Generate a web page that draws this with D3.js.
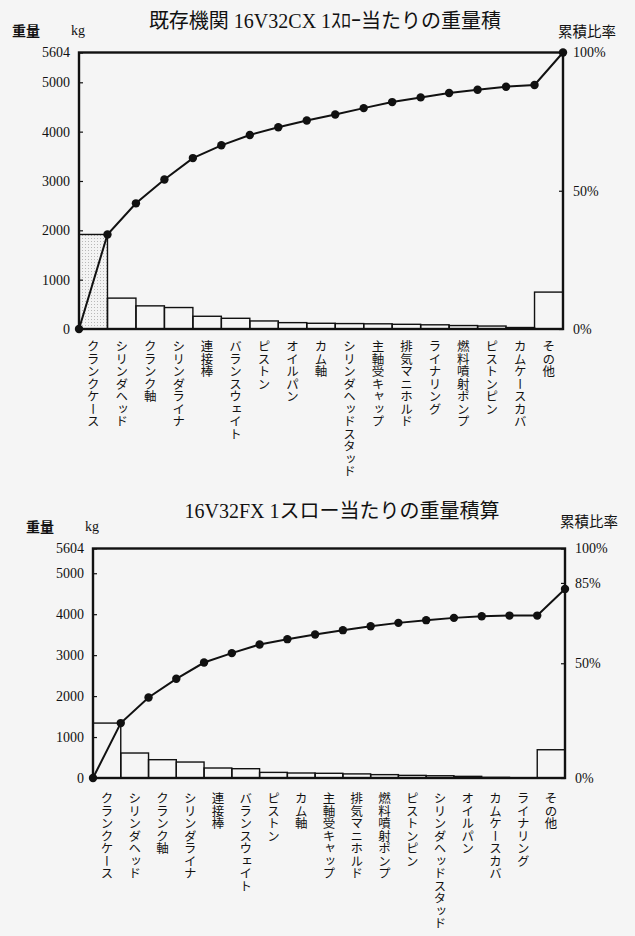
<!DOCTYPE html>
<html><head><meta charset="utf-8">
<script src="https://cdn.jsdelivr.net/npm/d3@7"></script>
<style>
body{margin:0;background:#f5f5f5}
svg{display:block}
</style>
</head><body>
<svg id="c" width="635" height="936"></svg>
<script>
// ---------- data ----------
const TOTAL_KG = 5604;

const titleA = "既存機関 16V32CX 1ｽﾛｰ当たりの重量積";
const categoriesA = ["クランクケース","シリンダヘッド","クランク軸","シリンダライナ","連接棒","バランスウェイト","ピストン","オイルパン","カム軸","シリンダヘッドスタッド","主軸受キャップ","排気マニホルド","ライナリング","燃料噴射ポンプ","ピストンピン","カムケースカバ","その他"];
const weightsA = [1916, 626, 469, 435, 258, 217, 163, 129, 116, 110, 105, 95, 85, 70, 60, 30, 748];
const cumulativeA = [1916, 2547, 3030, 3464, 3723, 3933, 4090, 4225, 4347, 4477, 4599, 4694, 4783, 4850, 4911, 4946, 5604];
const leftTicksA = [0, 1000, 2000, 3000, 4000, 5000, 5604];
const rightTicksA = [0, 50, 100];

const titleB = "16V32FX 1スロー当たりの重量積算";
const categoriesB = ["クランクケース","シリンダヘッド","クランク軸","シリンダライナ","連接棒","バランスウェイト","ピストン","カム軸","主軸受キャップ","排気マニホルド","燃料噴射ポンプ","ピストンピン","シリンダヘッドスタッド","オイルパン","カムケースカバ","ライナリング","その他"];
const weightsB = [1341, 610, 447, 390, 244, 227, 137, 122, 115, 100, 82, 64, 55, 40, 15, 6, 690];
const cumulativeB = [1341, 1966, 2422, 2820, 3049, 3259, 3390, 3503, 3610, 3707, 3788, 3854, 3910, 3951, 3966, 3966, 4617];
const leftTicksB = [0, 1000, 2000, 3000, 4000, 5000, 5604];
const rightTicksB = [0, 50, 85, 100];

// ---------- drawing ----------
const SERIF = '"Liberation Serif","DejaVu Serif",serif';
const MIXED = '"Liberation Serif","Noto Sans CJK JP",serif';
const JP = '"Noto Sans CJK JP",sans-serif';

const svg = d3.select("#c");
const defs = svg.append("defs");
const pat = defs.append("pattern").attr("id","stip").attr("width",3).attr("height",3)
  .attr("patternUnits","userSpaceOnUse");
pat.append("rect").attr("width",3).attr("height",3).attr("fill","#f3f3f3");
pat.append("rect").attr("x",1).attr("y",1).attr("width",1).attr("height",1).attr("fill","#b8b8b8");

function styleNum(sel){
  sel.style("font-family", SERIF).style("font-size","14px").style("fill","#111");
}

function drawChart(cfg){
  const g = svg.append("g");
  const x = d3.scaleBand().domain(cfg.categories).range([cfg.left, cfg.right]).padding(0);
  const y = d3.scaleLinear().domain([0, TOTAL_KG]).range([cfg.bottom, cfg.top]);
  const yr = d3.scaleLinear().domain([0, 100]).range([cfg.bottom, cfg.top]);
  const bw = x.bandwidth();

  // title and axis captions
  g.append("text").attr("x",cfg.titleX).attr("y",cfg.titleY)
    .attr("text-anchor","middle").style("font-family",MIXED).style("font-size","20px")
    .style("fill","#111").text(cfg.title);
  g.append("text").attr("x",cfg.left-67).attr("y",cfg.top-17)
    .style("font-family",JP).style("font-size","14px").style("font-weight","bold")
    .style("fill","#111").text("重量");
  g.append("text").attr("x",cfg.left-8).attr("y",cfg.top-18).call(styleNum).text("kg");
  g.append("text").attr("x",cfg.right-5).attr("y",cfg.capY)
    .style("font-family",JP).style("font-size","14.5px").style("fill","#111").text("累積比率");

  // bars
  g.selectAll("rect.bar").data(cfg.categories).join("rect").attr("class","bar")
    .attr("x", d => x(d)).attr("width", bw)
    .attr("y", (d,i) => y(cfg.weights[i]))
    .attr("height", (d,i) => y(0) - y(cfg.weights[i]))
    .attr("fill", (d,i) => (i===0 && cfg.stipple) ? "url(#stip)" : "none")
    .attr("stroke","#111").attr("stroke-width",1.4);

  // left axis
  const ax = d3.axisLeft(y).tickValues(cfg.leftTicks).tickSize(-4).tickPadding(9)
    .tickFormat(d3.format("d"));
  const axG = g.append("g").attr("transform",`translate(${cfg.left},0)`).call(ax);
  axG.select(".domain").remove();
  axG.selectAll("text").call(styleNum);
  axG.selectAll("line").attr("stroke","#111").attr("stroke-width",1.2);

  // right axis
  const ar = d3.axisRight(yr).tickValues(cfg.rightTicks).tickSize(-4).tickPadding(10)
    .tickFormat(d => d + "%");
  const arG = g.append("g").attr("transform",`translate(${cfg.right},0)`).call(ar);
  arG.select(".domain").remove();
  arG.selectAll("text").call(styleNum);
  arG.selectAll("line").attr("stroke","#111").attr("stroke-width",1.2);

  // frame
  g.append("rect").attr("x",cfg.left).attr("y",cfg.top)
    .attr("width",cfg.right-cfg.left).attr("height",cfg.bottom-cfg.top)
    .attr("fill","none").attr("stroke","#111").attr("stroke-width",2.4);

  // cumulative line
  const pts = [{x: x(cfg.categories[0]), v: 0}]
    .concat(cfg.cumulative.map((v,i) => ({x: x(cfg.categories[i]) + bw, v})));
  g.append("path").datum(pts)
    .attr("d", d3.line().x(d => d.x).y(d => y(d.v)))
    .attr("fill","none").attr("stroke","#111").attr("stroke-width",2);
  g.selectAll("circle.pt").data(pts).join("circle").attr("class","pt")
    .attr("cx", d => d.x).attr("cy", d => y(d.v)).attr("r",4.2).attr("fill","#111");

  // category labels (vertical)
  g.selectAll("text.cat").data(cfg.categories).join("text").attr("class","cat")
    .attr("x", d => x(d) + bw/2).attr("y", cfg.labelY)
    .style("font-family",JP).style("font-size","12.5px").style("fill","#111")
    .style("writing-mode","vertical-rl")
    .text(d => d);
}

drawChart({
  title: titleA, titleX: 325, titleY: 28, capY: 37,
  categories: categoriesA, weights: weightsA, cumulative: cumulativeA,
  leftTicks: leftTicksA, rightTicks: rightTicksA,
  left: 79, right: 563, top: 52.5, bottom: 329, labelY: 340, stipple: true
});
drawChart({
  title: titleB, titleX: 342, titleY: 518, capY: 527,
  categories: categoriesB, weights: weightsB, cumulative: cumulativeB,
  leftTicks: leftTicksB, rightTicks: rightTicksB,
  left: 93, right: 565, top: 548.5, bottom: 778, labelY: 792, stipple: false
});
</script>
</body></html>
